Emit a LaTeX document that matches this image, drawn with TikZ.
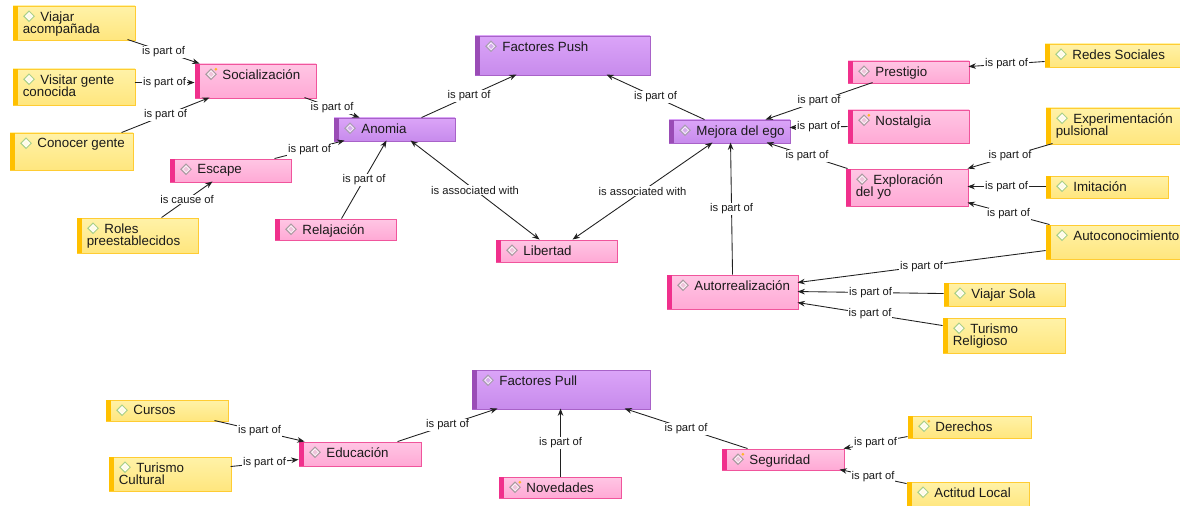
\documentclass[tikz,border=0pt]{standalone}
\usepackage{fontspec}
\setmainfont{Liberation Sans}
\usetikzlibrary{arrows.meta,calc,fit}
\definecolor{yfillA}{HTML}{FFF2A8}
\definecolor{yfillB}{HTML}{FFE67E}
\definecolor{yline}{HTML}{FFCC33}
\definecolor{ystripe}{HTML}{FFC000}
\definecolor{ydia}{HTML}{A9D08A}
\definecolor{pfillA}{HTML}{FFC6E4}
\definecolor{pfillB}{HTML}{FFA9D5}
\definecolor{pline}{HTML}{F0559C}
\definecolor{pstripe}{HTML}{F0308C}
\definecolor{pdia}{HTML}{A89CA0}
\definecolor{ufillA}{HTML}{DBA4F8}
\definecolor{ufillB}{HTML}{C78BEC}
\definecolor{uline}{HTML}{A862C8}
\definecolor{ustripe}{HTML}{9A4CB6}
\definecolor{udia}{HTML}{A8A0B0}
\definecolor{textc}{HTML}{1A1A1A}
\definecolor{linec}{HTML}{202020}
\definecolor{dotc}{HTML}{FFB52A}
\newcommand\nodefont{\fontsize{10pt}{9.4pt}\selectfont}
\newcommand\lblfont{\fontsize{8.4pt}{9pt}\selectfont}
\tikzset{
  ybox/.style={top color=yfillA, bottom color=yfillB, draw=yline, line width=0.7pt},
  pbox/.style={top color=pfillA, bottom color=pfillB, draw=pline, line width=0.7pt},
  ubox/.style={top color=ufillA, bottom color=ufillB, draw=uline, line width=0.7pt},
  ystripe/.style={fill=ystripe},
  pstripe/.style={fill=pstripe},
  ustripe/.style={fill=ustripe},
  ydia/.style={draw=ydia, fill=white!70!yfillA, line width=0.75pt},
  pdia/.style={draw=pdia, fill=white!40!pdia!30!pfillA, line width=0.75pt},
  udia/.style={draw=udia, fill=white!40!udia!30!ufillA, line width=0.75pt},
  boxtext/.style={anchor=north west, inner sep=0pt, align=left, font=\nodefont, text=textc},
  rel/.style={draw=linec, line width=0.65pt, -{Stealth[length=5.5pt,width=4.2pt]}},
  assoc/.style={draw=linec, line width=0.65pt, {Stealth[length=5.5pt,width=4.2pt]}-{Stealth[length=5.5pt,width=4.2pt]}},
  lbl/.style={fill=white, inner sep=0.6pt, font=\lblfont, text=textc}
}
% name, x1, y1, x2, y2, kind (y/p/u), text
\newcommand\mapbox[7]{%
  \node[#6box, fit={(#2,#3) (#4,#5)}, inner sep=0pt] (#1) {};
  \fill[#6stripe] (#1.north west) rectangle ($(#1.south west)+(5.5,0)$);
  \draw[#6dia] ($(#1.north west)+(16.5,5.5)$) -- ++(5.2,5.2) -- ++(-5.2,5.2) -- ++(-5.2,-5.2) -- cycle;
  \draw[white, line width=0.4pt] ($(#1.north west)+(16.5,7.3)$) -- ++(3.4,3.4) -- ++(-3.4,3.4) -- ++(-3.4,-3.4) -- cycle;
  \node[boxtext] (#1-t) at ($(#1.north west)+(10,5.6)$) {\hspace*{13.2pt}#7};
}
\newcommand\adddot[1]{\fill[dotc] ($(#1.north west)+(21.3,5.8)$) circle (1.5);}
\begin{document}
\begin{tikzpicture}[x=0.75pt,y=-0.75pt]
\useasboundingbox[fill=white] (0,0) rectangle (1180,506);
% boxes
\mapbox{via}{13}{6}{135}{40}{y}{Viajar\\acompañada}
\mapbox{vis}{13}{69}{135}{105}{y}{Visitar gente\\conocida}
\mapbox{con}{10}{133}{133}{170}{y}{Conocer gente}
\mapbox{soc}{195}{64}{316}{98}{p}{Socialización}
\mapbox{ano}{334}{118}{455}{141}{u}{Anomia}
\mapbox{esc}{170}{159}{291}{182}{p}{Escape}
\mapbox{rol}{77}{218}{198}{253}{y}{Roles\\preestablecidos}
\mapbox{rel}{275}{219}{396}{240}{p}{Relajación}
\mapbox{push}{475}{36}{650}{75}{u}{Factores Push}
\mapbox{ego}{669}{120}{790}{143}{u}{Mejora del ego}
\mapbox{lib}{496}{240}{617}{262}{p}{Libertad}
\mapbox{pre}{848}{61}{969}{83}{p}{Prestigio}
\mapbox{nos}{848}{110}{969}{143}{p}{Nostalgia}
\mapbox{exp}{846}{169}{968}{206}{p}{Exploración\\del yo}
\mapbox{red}{1045}{44}{1186}{67}{y}{Redes Sociales}
\mapbox{epu}{1046}{108}{1186}{144}{y}{Experimentación\\pulsional}
\mapbox{imi}{1046}{176}{1168}{198}{y}{Imitación}
\mapbox{aut}{1046}{225}{1186}{259}{y}{Autoconocimiento}
\mapbox{are}{667}{275}{798}{309}{p}{Autorrealización}
\mapbox{vso}{944}{283}{1065}{306}{y}{Viajar Sola}
\mapbox{tre}{943}{318}{1065}{353}{y}{Turismo\\Religioso}
\mapbox{pull}{472}{370}{650}{409}{u}{Factores Pull}
\mapbox{cur}{106}{400}{228}{421}{y}{Cursos}
\mapbox{tcu}{109}{457}{231}{491}{y}{Turismo\\Cultural}
\mapbox{edu}{299}{442}{421}{466}{p}{Educación}
\mapbox{nov}{499}{477}{621}{498}{p}{Novedades}
\mapbox{seg}{722}{449}{844}{470}{p}{Seguridad}
\mapbox{der}{908}{416}{1031}{438}{y}{Derechos}
\mapbox{act}{907}{482}{1029}{508}{y}{Actitud Local}
\adddot{soc}\adddot{nos}\adddot{nov}\adddot{seg}\adddot{der}
% connectors
\draw[rel] ($(via.north west)+(115,34)$) -- node[lbl]{is part of} ($(soc.north west)+(5,0)$);
\draw[rel] ($(vis.north west)+(122,14)$) -- node[lbl]{is part of} ($(soc.north west)+(0,19)$);
\draw[rel] ($(con.north west)+(112,0)$) -- node[lbl]{is part of} ($(soc.north west)+(15,34)$);
\draw[rel] ($(soc.north west)+(110,34)$) -- node[lbl]{is part of} ($(ano.north west)+(26,0)$);
\draw[rel] ($(esc.north west)+(105,0)$) -- node[lbl]{is part of} ($(ano.north west)+(11,23)$);
\draw[rel] ($(rol.north west)+(85,0)$) -- node[lbl]{is cause of} ($(esc.north west)+(43,23)$);
\draw[rel] ($(rel.north west)+(67,0)$) -- node[lbl]{is part of} ($(ano.north west)+(53,23)$);
\draw[rel] ($(ano.north west)+(88,0)$) -- node[lbl]{is part of} ($(push.north west)+(42,39)$);
\draw[rel] ($(ego.north west)+(36,0)$) -- node[lbl]{is part of} ($(push.north west)+(132,39)$);
\draw[assoc] ($(ano.north west)+(77,23)$) -- node[lbl]{is associated with} ($(lib.north west)+(44,0)$);
\draw[assoc] ($(ego.north west)+(44,23)$) -- node[lbl]{is associated with} ($(lib.north west)+(77,0)$);
\draw[rel] ($(pre.north west)+(25,22)$) -- node[lbl]{is part of} ($(ego.north west)+(97,0)$);
\draw[rel] ($(nos.north west)+(0,17)$) -- node[lbl]{is part of} ($(ego.north west)+(121,8)$);
\draw[rel] ($(exp.north west)+(2,0)$) -- node[lbl]{is part of} ($(ego.north west)+(98,23)$);
\draw[rel] ($(are.north west)+(66,0)$) -- node[lbl]{is part of} ($(ego.north west)+(62,23)$);
\draw[rel] ($(red.north west)+(0,18)$) -- node[lbl]{is part of} ($(pre.north west)+(121,6)$);
\draw[rel] ($(epu.north west)+(7,36)$) -- node[lbl]{is part of} ($(exp.north west)+(122,0)$);
\draw[rel] ($(imi.north west)+(0,11)$) -- node[lbl]{is part of} ($(exp.north west)+(122,18)$);
\draw[rel] ($(aut.north west)+(4,0)$) -- node[lbl]{is part of} ($(exp.north west)+(122,34)$);
\draw[rel] ($(aut.north west)+(0,26)$) -- node[lbl]{is part of} ($(are.north west)+(131,8)$);
\draw[rel] ($(vso.north west)+(0,11)$) -- node[lbl]{is part of} ($(are.north west)+(131,17)$);
\draw[rel] ($(tre.north west)+(0,8)$) -- node[lbl]{is part of} ($(are.north west)+(131,28)$);
\draw[rel] ($(cur.north west)+(109,21)$) -- node[lbl]{is part of} ($(edu.north west)+(6,0)$);
\draw[rel] ($(tcu.north west)+(122,10)$) -- node[lbl]{is part of} ($(edu.north west)+(0,18)$);
\draw[rel] ($(edu.north west)+(99,0)$) -- node[lbl]{is part of} ($(pull.north west)+(26,39)$);
\draw[rel] ($(nov.north west)+(62,0)$) -- node[lbl]{is part of} ($(pull.north west)+(89,39)$);
\draw[rel] ($(seg.north west)+(26,0)$) -- node[lbl]{is part of} ($(pull.north west)+(153,39)$);
\draw[rel] ($(der.north west)+(0,21)$) -- node[lbl]{is part of} ($(seg.north west)+(122,0)$);
\draw[rel] ($(act.north west)+(0,2)$) -- node[lbl]{is part of} ($(seg.north west)+(118,21)$);
\end{tikzpicture}
\end{document}
